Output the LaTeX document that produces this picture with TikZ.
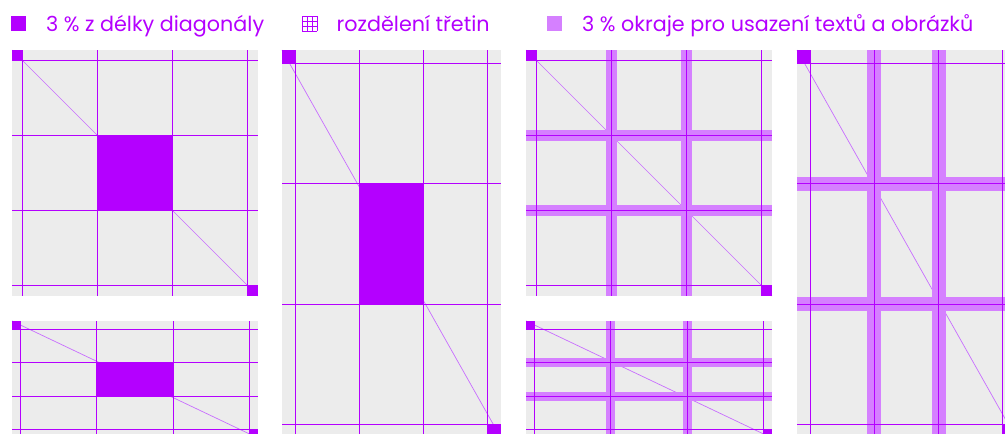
\documentclass[tikz,border=0pt]{standalone}
\usepackage{fontspec}
\setmainfont{Poppins}
\usepackage{tikz}

\definecolor{vio}{RGB}{180,0,255}
\definecolor{halo}{RGB}{213,128,255}
\definecolor{paper}{RGB}{236,236,236}
\definecolor{diagc}{RGB}{200,110,255}

\begin{document}
\begin{tikzpicture}[x=1pt,y=-1pt,
    grid line/.style={vio,line width=1.15pt},
    diag line/.style={diagc,line width=.7pt},
    legend/.style={anchor=base west,inner sep=0pt,text=vio,font=\fontsize{20.7}{24}\selectfont}]
  \useasboundingbox (0,0) rectangle (1005,434);
  \clip (0,0) rectangle (1005,434);

  % legend
  \fill[vio] (11,16) rectangle (26,31);
  \node[legend] (diaglab) at (46,31) {3 \% z délky diagonály};
  \foreach \k in {0,5,10,15} {
    \draw[vio,line width=.9pt] (302+\k,16) -- (302+\k,31);
    \draw[vio,line width=.9pt] (302,16+\k) -- (317,16+\k);
  }
  \node[legend] (thirdlab) at (336.5,31) {rozdělení třetin};
  \fill[halo] (547,16) rectangle (562,31);
  \node[legend] (marginlab) at (582,31) {3 \% okraje pro usazení textů a obrázků};

  % panels: left, top, width, height, bands, core
  \foreach \nx/\ny/\w/\h/\band/\core in {12/50/246/246/0/1, 12/321/246/117/0/1,
      282/50/219/388/0/1, 526/50/246/246/1/0, 526/321/246/117/1/0, 797/50/219/388/1/0} {
    \pgfmathsetmacro\m{0.03*veclen(\w,\h)}
    \pgfmathsetmacro\dx{(\w-2*\m)/3}
    \pgfmathsetmacro\dy{(\h-2*\m)/3}
    \fill[paper] (\nx,\ny) rectangle ++(\w,\h);
    \draw[diag line] (\nx,\ny) -- ++(\w,\h);
    \ifnum\band=1
      \foreach \i in {1,2} {
        \fill[halo] ({\nx+\m+\i*\dx-\m/2-.3},\ny) rectangle ++({\m+.6},\h);
        \fill[halo] (\nx,{\ny+\m+\i*\dy-\m/2-.3}) rectangle ++(\w,{\m+.6});
      }
    \fi
    \foreach \i in {0,...,3} {
      \draw[grid line] ({\nx+\m+\i*\dx},\ny) -- ++(0,\h);
      \draw[grid line] (\nx,{\ny+\m+\i*\dy}) -- ++(\w,0);
    }
    \ifnum\core=1
      \fill[vio] ({\nx+\m+\dx},{\ny+\m+\dy}) rectangle ++(\dx,\dy);
    \fi
    \fill[vio] (\nx,\ny) rectangle ++(\m,\m);
    \fill[vio] ({\nx+\w},{\ny+\h}) rectangle ++(-\m,-\m);
  }
\end{tikzpicture}
\end{document}
